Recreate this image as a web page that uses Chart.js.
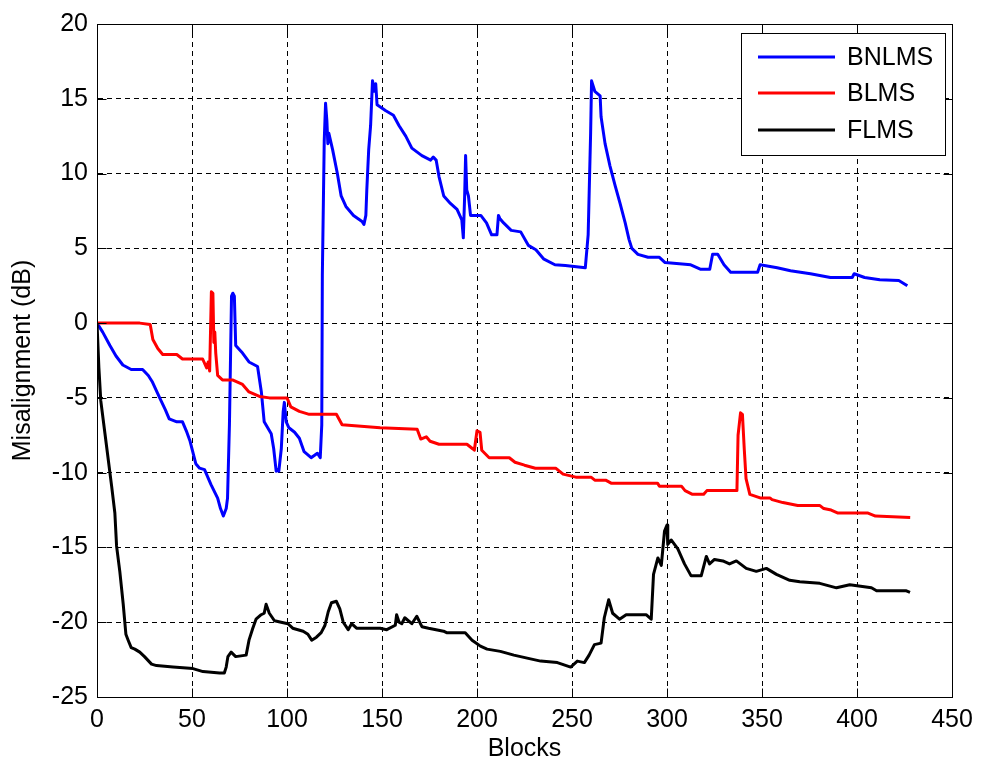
<!DOCTYPE html>
<html>
<head>
<meta charset="utf-8">
<script src="https://cdn.jsdelivr.net/npm/chart.js@4.4.1/dist/chart.umd.min.js"></script>
<style>
  body { margin: 0; background: #fff; }
  #wrap { width: 981px; height: 764px; }
</style>
</head>
<body>
<div id="wrap"><canvas id="canvas1" width="981" height="764"></canvas></div>
<script>
// series: block index and misalignment in dB
const bnlmsBlocks = [0, 3, 6.8, 10, 13.6, 18, 24, 27, 29, 33, 36, 38, 42, 45, 47, 49, 52, 54, 56.6, 60, 63.5, 65, 66.5, 68, 68.7, 69.7, 70.8, 71.5, 72.3, 73, 76.6, 80, 84.5, 86.5, 88, 91.7, 93, 94.3, 95, 95.7, 97, 98, 98.6, 99.6, 101, 104, 106.5, 109, 112.7, 116, 117.5, 118.3, 118.6, 119.6, 120.3, 121, 121.5, 122, 124, 126.5, 128.5, 131, 135, 139.5, 140.5, 141.5, 142, 143, 144, 145, 146, 146.7, 147.4, 152, 156, 159, 162.5, 165.7, 171, 175.6, 177, 178.5, 180, 182.5, 186, 189.5, 192, 192.8, 193.5, 194, 194.6, 195.5, 196.6, 202, 205, 207.7, 210.5, 211.3, 212, 214, 218, 223, 227, 231, 235, 241, 246.5, 257, 258.5, 259.8, 260.3, 262, 264.8, 265.3, 267.4, 270, 272.7, 275.3, 278, 280, 281.5, 284.7, 290, 296, 299, 312.5, 317.8, 322.5, 324, 326.7, 330, 333.5, 347.7, 349, 358, 365, 375.5, 386, 397.5, 398.5, 404, 412, 422, 426.5];
const bnlmsDb = [0, -0.6, -1.5, -2.2, -2.8, -3.1, -3.1, -3.5, -3.9, -5.0, -5.8, -6.4, -6.6, -6.6, -7.2, -7.9, -9.4, -9.7, -9.8, -10.8, -11.7, -12.4, -12.9, -12.4, -11.7, -6.8, 1.8, 2.0, 1.8, -1.5, -2.0, -2.6, -2.9, -4.6, -6.6, -7.4, -8.4, -9.9, -9.8, -9.9, -8.4, -5.9, -5.3, -6.6, -7.0, -7.3, -7.7, -8.6, -9.0, -8.7, -9.0, -6.8, 3.2, 12.2, 14.7, 13.5, 12.0, 12.7, 11.6, 10.0, 8.5, 7.8, 7.2, 6.8, 6.6, 7.2, 8.9, 11.6, 13.2, 16.2, 15.5, 16.0, 14.6, 14.2, 13.9, 13.2, 12.5, 11.7, 11.2, 10.9, 11.1, 10.9, 9.8, 8.5, 8.0, 7.6, 6.9, 5.7, 8.5, 11.2, 8.9, 8.5, 7.2, 7.2, 6.7, 5.9, 5.9, 7.2, 7.0, 6.7, 6.2, 6.1, 5.2, 4.9, 4.3, 3.9, 3.85, 3.7, 5.9, 12.7, 16.2, 15.5, 15.2, 13.8, 12.0, 10.5, 9.2, 8.0, 6.7, 5.6, 5.0, 4.6, 4.4, 4.4, 4.05, 3.9, 3.6, 3.6, 4.6, 4.6, 3.9, 3.4, 3.4, 3.9, 3.7, 3.5, 3.3, 3.05, 3.05, 3.3, 3.05, 2.9, 2.85, 2.5];

const blmsBlocks = [0, 22.5, 28, 29.4, 32, 34.6, 42, 45, 55.6, 57.7, 58.5, 59.3, 60.2, 61, 61.5, 62, 62.5, 63.5, 66, 71.3, 76.6, 80, 85.5, 90.7, 100, 102, 106.5, 111.7, 126, 129, 149, 168.5, 170.4, 173.3, 175.3, 180, 194.7, 197.7, 198.6, 200, 201.6, 202.5, 206.4, 217, 220, 225, 230.7, 241.4, 245.3, 252, 260, 262, 267.7, 270.6, 295, 296, 307.6, 309.5, 313.4, 319.3, 321, 336.8, 337.4, 338.7, 339.7, 340.7, 341.6, 343.6, 349.4, 354.3, 355.3, 361, 368.8, 380.5, 382.5, 386.4, 390, 405.8, 409.7, 428];
const blmsDb = [0, 0, -0.1, -1.1, -1.7, -2.1, -2.1, -2.4, -2.4, -3.0, -2.6, -3.2, 2.1, 2.0, -1.3, -0.6, -2.0, -3.5, -3.8, -3.8, -4.1, -4.6, -4.9, -5.0, -5.0, -5.6, -5.9, -6.1, -6.1, -6.8, -7.0, -7.1, -7.75, -7.6, -7.9, -8.1, -8.1, -8.4, -8.5, -7.2, -7.3, -8.5, -9.0, -9.0, -9.3, -9.5, -9.7, -9.7, -10.1, -10.3, -10.3, -10.5, -10.5, -10.7, -10.7, -10.9, -10.9, -11.2, -11.45, -11.45, -11.2, -11.2, -7.5, -6.0, -6.1, -8.5, -10.4, -11.45, -11.7, -11.7, -11.8, -12.0, -12.2, -12.2, -12.4, -12.5, -12.7, -12.7, -12.9, -13.0];

const flmsBlocks = [0, 1, 2, 4.2, 6, 7.7, 9.4, 10.3, 12, 13.8, 15.2, 16.4, 18, 19.9, 22.5, 25, 28.7, 31.3, 40, 50.5, 55.8, 64.5, 67, 68, 68.9, 70.6, 73, 78.5, 80, 82, 83.7, 86.4, 88, 89, 90.7, 93.4, 96.9, 100.5, 103, 108.5, 111, 113, 115.5, 118, 120, 121.7, 123.4, 126, 127.8, 129.6, 132.2, 134, 136.6, 149, 152.5, 157, 157.7, 159, 160.4, 162, 165.7, 168.3, 171, 174.5, 182.4, 184, 193.8, 197.4, 201.8, 205.3, 212.3, 219.4, 226.4, 233.5, 242.3, 249.3, 252.8, 256.5, 259, 261.8, 265.3, 267, 269.3, 271.4, 275, 278.5, 289, 291.7, 292.9, 295.2, 297, 298.7, 300, 300.4, 302.2, 305.7, 309.2, 312.7, 318, 320.7, 322.4, 325, 329.4, 332.9, 336.5, 341.7, 347, 352.3, 357.6, 364.6, 369.9, 380.4, 389.2, 396.2, 407.6, 410.3, 426, 427.9];
const flmsDb = [0, -3, -5.2, -7.4, -9.2, -10.9, -12.7, -14.9, -16.6, -18.8, -20.8, -21.2, -21.7, -21.8, -22.0, -22.3, -22.8, -22.9, -23.0, -23.1, -23.3, -23.4, -23.4, -23.0, -22.3, -22.0, -22.3, -22.2, -21.2, -20.4, -19.8, -19.5, -19.4, -18.8, -19.4, -19.9, -20.0, -20.1, -20.4, -20.6, -20.8, -21.2, -21.0, -20.7, -20.2, -19.3, -18.7, -18.6, -19.1, -20.0, -20.5, -20.1, -20.4, -20.4, -20.5, -20.2, -19.5, -20.0, -20.1, -19.7, -20.1, -19.6, -20.3, -20.4, -20.6, -20.7, -20.7, -21.2, -21.6, -21.8, -21.95, -22.2, -22.4, -22.6, -22.7, -23.0, -22.6, -22.7, -22.2, -21.5, -21.4, -19.7, -18.5, -19.4, -19.8, -19.5, -19.5, -19.8, -16.8, -15.7, -16.2, -13.9, -13.5, -14.8, -14.5, -15.1, -16.1, -16.9, -16.9, -15.6, -16.1, -15.8, -15.9, -16.1, -15.9, -16.4, -16.6, -16.4, -16.8, -17.2, -17.3, -17.4, -17.7, -17.5, -17.7, -17.9, -17.9, -18.0];

const seriesNames = ['BNLMS', 'BLMS', 'FLMS'];
const xTicks = [0, 50, 100, 150, 200, 250, 300, 350, 400, 450];
const yTicks = [-25, -20, -15, -10, -5, 0, 5, 10, 15, 20];

const FONT = "'Liberation Sans', Arial, sans-serif";

function toPoints(xs, ys) {
  return xs.map((x, i) => ({ x: x, y: ys[i] }));
}

// frame round the axes with inward ticks on every side, like the original
const framePlugin = {
  id: 'frame',
  afterDraw(chart) {
    const ctx = chart.ctx;
    const a = chart.chartArea;
    const xs = chart.scales.x, ys = chart.scales.y;
    const L = Math.round(a.left) + 0.5, R = Math.round(a.right) + 0.5;
    const T = Math.round(a.top) + 0.5, B = Math.round(a.bottom) + 0.5;
    ctx.save();
    ctx.strokeStyle = '#000';
    ctx.lineWidth = 1;
    ctx.setLineDash([]);
    ctx.strokeRect(L, T, R - L, B - T);
    ctx.beginPath();
    xTicks.forEach(v => {
      const px = Math.round(xs.getPixelForValue(v)) + 0.5;
      ctx.moveTo(px, B); ctx.lineTo(px, B - 9);
      ctx.moveTo(px, T); ctx.lineTo(px, T + 9);
    });
    yTicks.forEach(v => {
      const py = Math.round(ys.getPixelForValue(v)) + 0.5;
      ctx.moveTo(L, py); ctx.lineTo(L + 9, py);
      ctx.moveTo(R, py); ctx.lineTo(R - 9, py);
    });
    ctx.stroke();

    // legend box
    const bx = 741.5, by = 33.5, bw = 204, bh = 122;
    ctx.fillStyle = '#fff';
    ctx.fillRect(bx, by, bw, bh);
    ctx.strokeRect(bx, by, bw, bh);
    ctx.font = '25px ' + FONT;
    ctx.textBaseline = 'middle';
    ctx.textAlign = 'left';
    const rows = [57, 93, 130];
    chart.data.datasets.forEach((ds, i) => {
      ctx.strokeStyle = ds.borderColor;
      ctx.lineWidth = 3;
      ctx.beginPath();
      ctx.moveTo(758, rows[i]);
      ctx.lineTo(835, rows[i]);
      ctx.stroke();
      ctx.fillStyle = '#000';
      ctx.fillText(ds.label, 847, rows[i] + 1);
    });
    ctx.restore();
  }
};

const config = {
  type: 'line',
  data: {
    datasets: [
      { label: seriesNames[0], data: toPoints(bnlmsBlocks, bnlmsDb), borderColor: '#0000ff', order: 3 },
      { label: seriesNames[1], data: toPoints(blmsBlocks, blmsDb), borderColor: '#ff0000', order: 2 },
      { label: seriesNames[2], data: toPoints(flmsBlocks, flmsDb), borderColor: '#000000', order: 1 }
    ]
  },
  options: {
    responsive: false,
    animation: false,
    devicePixelRatio: 1,
    layout: { padding: { top: 21, right: 29, bottom: 0, left: 0 } },
    elements: {
      line: { borderWidth: 3, tension: 0, borderJoinStyle: 'round', fill: false },
      point: { radius: 0, hoverRadius: 0 }
    },
    plugins: {
      legend: { display: false },
      tooltip: { enabled: false }
    },
    scales: {
      x: {
        type: 'linear',
        min: 0,
        max: 450,
        afterFit(scale) { scale.height = 67; },
        afterBuildTicks(scale) { scale.ticks = xTicks.map(v => ({ value: v })); },
        ticks: { color: '#000', padding: 8, font: { family: FONT, size: 25 }, maxRotation: 0, callback: v => String(v) },
        grid: { color: '#000', lineWidth: 1, drawTicks: false },
        border: { display: true, color: '#000', dash: [5, 4] },
        title: { display: true, text: 'Blocks', color: '#000', font: { family: FONT, size: 25 }, padding: { top: 0, bottom: 0 } }
      },
      y: {
        min: -25,
        max: 20,
        afterFit(scale) { scale.width = 97; },
        afterBuildTicks(scale) { scale.ticks = yTicks.map(v => ({ value: v })); },
        ticks: { color: '#000', padding: 9, font: { family: FONT, size: 25 }, callback: v => String(v) },
        grid: { color: '#000', lineWidth: 1, drawTicks: false },
        border: { display: true, color: '#000', dash: [5, 4] },
        title: { display: true, text: 'Misalignment (dB)', color: '#000', font: { family: FONT, size: 25 }, padding: { top: 8, bottom: 0 } }
      }
    }
  },
  plugins: [framePlugin]
};

const myChart = new Chart(document.getElementById('canvas1'), config);
</script>
</body>
</html>
